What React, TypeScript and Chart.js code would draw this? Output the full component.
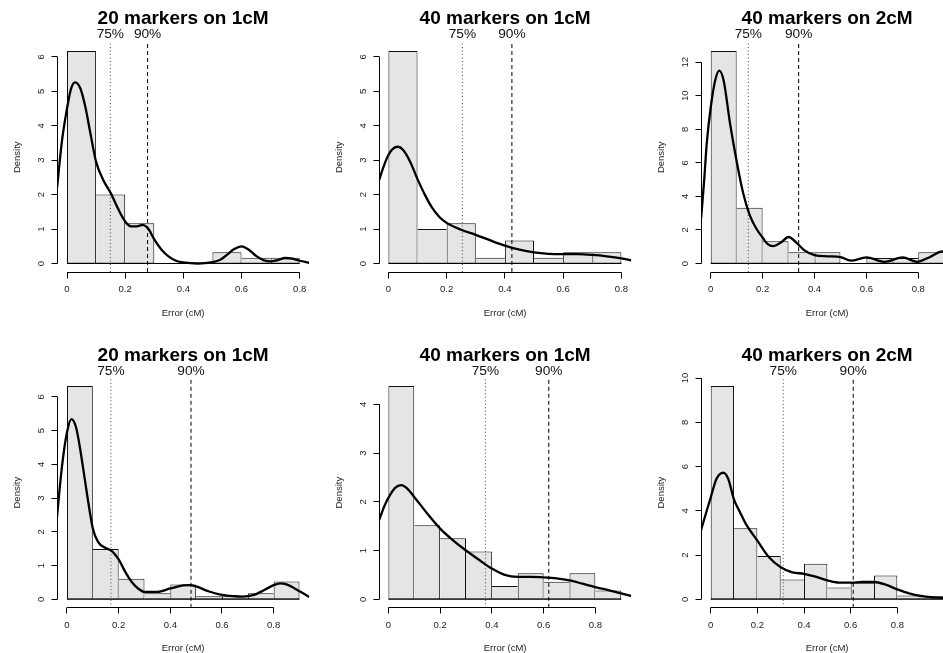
import React, { useEffect, useRef } from "react";
import { Chart, registerables } from "chart.js";

Chart.register(...registerables);

const FONT = '"Liberation Sans", Arial, Helvetica, sans-serif';

// ---------------- data ----------------
const panelTitles = [
  "20 markers on 1cM",
  "40 markers on 1cM",
  "40 markers on 2cM",
  "20 markers on 1cM",
  "40 markers on 1cM",
  "40 markers on 2cM",
];

const binWidth = 0.1;

// histogram densities, bins start at 0 with width 0.1
const hist1 = [6.17, 2.0, 1.17, 0, 0, 0.33, 0.17, 0.17];
const hist2 = [6.17, 1.0, 1.17, 0.17, 0.67, 0.17, 0.33, 0.33];
const hist3 = [12.67, 3.33, 1.33, 0.67, 0.67, 0, 0.33, 0.33, 0.67];
const hist4 = [6.32, 1.49, 0.61, 0.175, 0.44, 0.088, 0.088, 0.175, 0.53];
const hist5 = [4.375, 1.52, 1.25, 0.98, 0.27, 0.536, 0.357, 0.536, 0.179];
const hist6 = [9.64, 3.21, 1.96, 0.89, 1.61, 0.536, 0.75, 1.07, 0.17, 0.14];

// kernel density curves [x, density]
const density1: [number, number][] = [
  [-0.034, 2.22], [-0.017, 3.58], [0.0, 4.5], [0.014, 5.08], [0.028, 5.26], [0.046, 5.08],
  [0.063, 4.55], [0.08, 3.8], [0.1, 2.95], [0.125, 2.42], [0.15, 2.05], [0.175, 1.6],
  [0.2, 1.22], [0.22, 1.08], [0.24, 1.08], [0.26, 1.12], [0.28, 1.0], [0.3, 0.7],
  [0.325, 0.4], [0.35, 0.2], [0.375, 0.08], [0.4, 0.03], [0.45, 0.0], [0.5, 0.04],
  [0.525, 0.1], [0.55, 0.25], [0.575, 0.42], [0.6, 0.5], [0.625, 0.4], [0.65, 0.22],
  [0.675, 0.1], [0.7, 0.06], [0.725, 0.1], [0.75, 0.16], [0.775, 0.14], [0.8, 0.08],
  [0.833, 0.02],
];
const density2: [number, number][] = [
  [-0.032, 2.42], [-0.015, 2.85], [0.0, 3.15], [0.015, 3.33], [0.033, 3.39], [0.05, 3.3],
  [0.075, 2.95], [0.1, 2.45], [0.125, 2.0], [0.15, 1.62], [0.175, 1.35], [0.2, 1.18],
  [0.25, 0.98], [0.3, 0.83], [0.35, 0.67], [0.4, 0.52], [0.45, 0.4], [0.5, 0.32],
  [0.55, 0.28], [0.6, 0.27], [0.65, 0.27], [0.7, 0.25], [0.75, 0.21], [0.8, 0.15],
  [0.834, 0.09],
];
const density3: [number, number][] = [
  [-0.037, 2.7], [-0.025, 5.0], [-0.015, 7.2], [0.0, 9.3], [0.017, 10.9], [0.033, 11.5],
  [0.05, 10.9], [0.075, 8.3], [0.1, 6.1], [0.125, 4.2], [0.15, 2.9], [0.175, 2.1],
  [0.2, 1.55], [0.22, 1.15], [0.24, 1.03], [0.27, 1.25], [0.3, 1.58], [0.33, 1.25],
  [0.36, 0.8], [0.4, 0.5], [0.45, 0.43], [0.5, 0.38], [0.54, 0.17], [0.6, 0.36],
  [0.67, 0.1], [0.74, 0.36], [0.795, 0.1], [0.845, 0.39], [0.883, 0.69], [0.91, 0.74],
  [0.935, 0.7],
];
const density4: [number, number][] = [
  [-0.0387, 2.44], [-0.02, 3.9], [0.0, 4.95], [0.017, 5.34], [0.035, 5.1], [0.05, 4.5],
  [0.07, 3.5], [0.085, 2.75], [0.1, 2.1], [0.12, 1.7], [0.15, 1.52], [0.175, 1.42],
  [0.2, 1.18], [0.225, 0.82], [0.25, 0.52], [0.275, 0.32], [0.3, 0.22], [0.35, 0.22],
  [0.4, 0.32], [0.45, 0.41], [0.475, 0.42], [0.5, 0.38], [0.55, 0.23], [0.6, 0.13],
  [0.65, 0.09], [0.68, 0.08], [0.72, 0.12], [0.75, 0.22], [0.8, 0.42], [0.825, 0.47],
  [0.85, 0.44], [0.9, 0.24], [0.938, 0.07],
];
const density5: [number, number][] = [
  [-0.0363, 1.62], [-0.015, 1.92], [0.0, 2.08], [0.025, 2.28], [0.05, 2.34], [0.075, 2.26],
  [0.1, 2.1], [0.15, 1.76], [0.2, 1.45], [0.25, 1.21], [0.3, 1.0], [0.35, 0.81],
  [0.4, 0.63], [0.45, 0.5], [0.5, 0.46], [0.55, 0.46], [0.6, 0.45], [0.65, 0.43],
  [0.7, 0.39], [0.75, 0.32], [0.8, 0.25], [0.85, 0.19], [0.9, 0.12], [0.939, 0.07],
];
const density6: [number, number][] = [
  [-0.0416, 3.12], [-0.02, 3.9], [0.0, 4.6], [0.025, 5.45], [0.054, 5.72], [0.075, 5.45],
  [0.1, 4.5], [0.125, 3.95], [0.15, 3.42], [0.2, 2.65], [0.25, 1.9], [0.3, 1.45],
  [0.35, 1.22], [0.4, 1.15], [0.45, 1.02], [0.5, 0.85], [0.55, 0.75], [0.6, 0.75],
  [0.65, 0.78], [0.7, 0.78], [0.75, 0.66], [0.8, 0.45], [0.85, 0.27], [0.9, 0.15],
  [0.95, 0.09], [1.0, 0.06], [1.04, 0.05],
];

// percentile markers
const pct75 = [0.149, 0.254, 0.145, 0.17, 0.375, 0.311];
const pct90 = [0.277, 0.424, 0.339, 0.48, 0.62, 0.611];
const pctLabels = ["75%", "90%"];

// axis limits and ticks
const xMin = [-0.0344, -0.0323, -0.0374, -0.0387, -0.0363, -0.0416];
const xMax = [0.833, 0.834, 0.935, 0.938, 0.939, 1.04];
const xTicks = [0, 0.2, 0.4, 0.6, 0.8];
const xTickLabels = ["0", "0.2", "0.4", "0.6", "0.8"];
const yTicks1 = [0, 1, 2, 3, 4, 5, 6];
const yTicks2 = [0, 1, 2, 3, 4, 5, 6];
const yTicks3 = [0, 2, 4, 6, 8, 10, 12];
const yTicks4 = [0, 1, 2, 3, 4, 5, 6];
const yTicks5 = [0, 1, 2, 3, 4];
const yTicks6 = [0, 2, 4, 6, 8, 10];
const xAxisTitle = "Error (cM)";
const yAxisTitle = "Density";

const hists = [hist1, hist2, hist3, hist4, hist5, hist6];
const densities = [density1, density2, density3, density4, density5, density6];
const yTicksAll = [yTicks1, yTicks2, yTicks3, yTicks4, yTicks5, yTicks6];

// ---------------- layout ----------------
const plotLeft = [56.7, 379.3, 701];
const plotTop = [42.5, 377];
const plotWidth = 252.3;
const plotHeight = [229.5, 230.3];
const titleOffset = [24, 22];
const pctLabelOffset = [8.2, 6.3];
const CANVAS_W = 322;
const CANVAS_H = 330;
const PAD_LEFT = 57;
const PAD_TOP = 42.5;

function crisp(v: number) {
  return Math.floor(v) + 0.5;
}

function Panel({ idx }: { idx: number }) {
  const ref = useRef<HTMLCanvasElement | null>(null);
  const col = idx % 3;
  const row = Math.floor(idx / 3);

  useEffect(() => {
    const canvas = ref.current;
    if (!canvas) return;
    const hist = hists[idx];
    const ymax = Math.max(...hist);
    const yLo = -0.04 * ymax;
    const yHi = 1.04 * ymax;
    const yTicks = yTicksAll[idx];

    const bars = hist.map((d, i) => ({ x: (i + 0.5) * binWidth, y: d }));
    const curve = densities[idx].map(([x, y]) => ({ x, y }));
    const baseline = [
      { x: 0, y: 0 },
      { x: hist.length * binWidth, y: 0 },
    ];

    const axesPlugin = {
      id: "rAxes",
      afterDraw(chart: any) {
        const { ctx, chartArea: a, scales } = chart;
        const xs = scales.x;
        const ys = scales.y;
        ctx.save();
        ctx.strokeStyle = "#000";
        ctx.lineWidth = 1;

        // x axis
        const xb = crisp(a.bottom);
        const xp = xTicks.map((v) => xs.getPixelForValue(v));
        ctx.beginPath();
        ctx.moveTo(xp[0], xb);
        ctx.lineTo(xp[xp.length - 1], xb);
        xp.forEach((p) => {
          ctx.moveTo(crisp(p), xb);
          ctx.lineTo(crisp(p), xb + 6);
        });
        ctx.stroke();

        // y axis
        const yl = crisp(a.left);
        const yp = yTicks.map((v) => ys.getPixelForValue(v));
        ctx.beginPath();
        ctx.moveTo(yl, yp[0]);
        ctx.lineTo(yl, yp[yp.length - 1]);
        yp.forEach((p) => {
          ctx.moveTo(yl, crisp(p));
          ctx.lineTo(yl - 6, crisp(p));
        });
        ctx.stroke();

        // tick labels
        ctx.fillStyle = "#222";
        ctx.font = `9.5px ${FONT}`;
        ctx.textAlign = "center";
        ctx.textBaseline = "middle";
        xp.forEach((p, i) => ctx.fillText(xTickLabels[i], p, a.bottom + 17.5));
        yp.forEach((p, i) => {
          ctx.save();
          ctx.translate(a.left - 16, p);
          ctx.rotate(-Math.PI / 2);
          ctx.fillText(String(yTicks[i]), 0, 0);
          ctx.restore();
        });

        // axis titles
        const cx = (a.left + a.right) / 2;
        ctx.fillText(xAxisTitle, cx, a.bottom + 41);
        ctx.save();
        ctx.translate(a.left - 39.5, (a.top + a.bottom) / 2);
        ctx.rotate(-Math.PI / 2);
        ctx.fillText(yAxisTitle, 0, 0);
        ctx.restore();

        // main title
        ctx.fillStyle = "#000";
        ctx.font = `bold 19px ${FONT}`;
        ctx.fillText(panelTitles[idx], cx, a.top - titleOffset[row]);

        // percentile labels
        ctx.font = `13.7px ${FONT}`;
        ctx.fillStyle = "#111";
        ctx.fillText(pctLabels[0], xs.getPixelForValue(pct75[idx]), a.top - pctLabelOffset[row]);
        ctx.fillText(pctLabels[1], xs.getPixelForValue(pct90[idx]), a.top - pctLabelOffset[row]);
        ctx.restore();
      },
    };

    const chart = new Chart(canvas, {
      type: "bar",
      data: {
        datasets: [
          {
            type: "line",
            label: "density",
            data: curve,
            borderColor: "#000",
            borderWidth: 2.3,
            pointRadius: 0,
            cubicInterpolationMode: "monotone",
            fill: false,
            order: 0,
          } as any,
          {
            type: "line",
            label: "75%",
            data: [
              { x: pct75[idx], y: yLo },
              { x: pct75[idx], y: yHi },
            ],
            borderColor: "#444",
            borderWidth: 1,
            borderDash: [1, 2.5],
            pointRadius: 0,
            fill: false,
            order: 1,
          } as any,
          {
            type: "line",
            label: "90%",
            data: [
              { x: pct90[idx], y: yLo },
              { x: pct90[idx], y: yHi },
            ],
            borderColor: "#000",
            borderWidth: 1,
            borderDash: [4, 3],
            pointRadius: 0,
            fill: false,
            order: 1,
          } as any,
          {
            type: "line",
            label: "baseline",
            data: baseline,
            borderColor: "#000",
            borderWidth: 1,
            pointRadius: 0,
            fill: false,
            order: 2,
          } as any,
          {
            type: "bar",
            label: "histogram",
            data: bars,
            backgroundColor: "#e5e5e5",
            borderColor: "#111",
            borderSkipped: false,
            inflateAmount: 0,
            barThickness: "flex",
            barPercentage: 1,
            categoryPercentage: 1,
            borderWidth: (c: any) => {
              const i = c.dataIndex;
              if (i === undefined) return 1;
              const prev = i > 0 ? hist[i - 1] : -1;
              const next = i < hist.length - 1 ? hist[i + 1] : -1;
              return {
                top: 1,
                bottom: 1,
                left: hist[i] >= prev ? 1 : 0,
                right: hist[i] > next ? 1 : 0,
              };
            },
            order: 3,
          } as any,
        ],
      },
      options: {
        animation: false,
        responsive: false,
        devicePixelRatio: 1,
        events: [],
        layout: {
          padding: {
            left: PAD_LEFT,
            top: PAD_TOP,
            right: CANVAS_W - PAD_LEFT - plotWidth,
            bottom: CANVAS_H - PAD_TOP - plotHeight[row],
          },
        },
        plugins: {
          legend: { display: false },
          tooltip: { enabled: false },
          title: { display: false },
        },
        scales: {
          x: {
            type: "linear",
            display: false,
            offset: false,
            min: xMin[idx],
            max: xMax[idx],
            ticks: { includeBounds: false },
          },
          y: {
            type: "linear",
            display: false,
            min: yLo,
            max: yHi,
          },
        },
      } as any,
      plugins: [axesPlugin],
    });
    return () => chart.destroy();
  }, [idx, row]);

  return (
    <canvas
      ref={ref}
      width={CANVAS_W}
      height={CANVAS_H}
      style={{
        position: "absolute",
        left: plotLeft[col] - PAD_LEFT,
        top: plotTop[row] - PAD_TOP,
        width: CANVAS_W,
        height: CANVAS_H,
        display: "block",
      }}
    />
  );
}

export default function App() {
  return (
    <div
      style={{
        position: "fixed",
        left: 0,
        top: 0,
        width: 943,
        height: 653,
        overflow: "hidden",
        background: "#fff",
      }}
    >
      {[0, 1, 2, 3, 4, 5].map((i) => (
        <Panel key={i} idx={i} />
      ))}
    </div>
  );
}
